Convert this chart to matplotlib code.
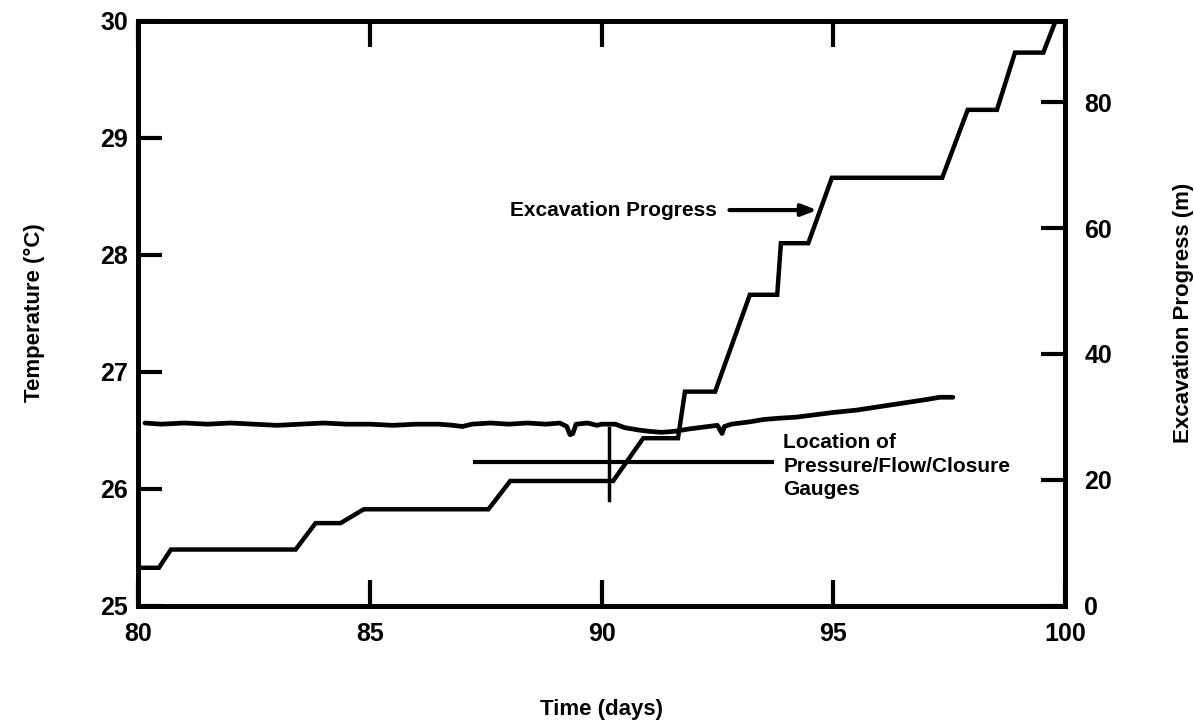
import matplotlib
matplotlib.use("Agg")
import matplotlib.pyplot as plt

# temperature record (deg C) vs time (days)
temp_days = [80.15, 80.5, 81.0, 81.5, 82.0, 82.5, 83.0, 83.5, 84.0, 84.5, 85.0, 85.5,
             86.0, 86.5, 86.8, 87.0, 87.2, 87.6, 88.0, 88.4, 88.8, 89.1, 89.25, 89.32,
             89.38, 89.45, 89.7, 89.9, 90.0, 90.3, 90.5, 90.8, 91.0, 91.3, 91.6, 91.9,
             92.1, 92.3, 92.5, 92.6, 92.65, 92.8, 93.2, 93.5, 93.8, 94.2, 94.6, 95.0,
             95.5, 96.0, 96.5, 97.0, 97.3, 97.58]
temp_c = [26.56, 26.55, 26.56, 26.55, 26.56, 26.55, 26.54, 26.55, 26.56, 26.55, 26.55, 26.54,
          26.55, 26.55, 26.54, 26.53, 26.55, 26.56, 26.55, 26.56, 26.55, 26.56, 26.53, 26.46,
          26.47, 26.55, 26.56, 26.54, 26.55, 26.55, 26.52, 26.50, 26.49, 26.48, 26.49, 26.51,
          26.52, 26.53, 26.54, 26.47, 26.53, 26.55, 26.57, 26.59, 26.60, 26.61, 26.63, 26.65,
          26.67, 26.70, 26.73, 26.76, 26.78, 26.78]

# excavation face position (m) vs time (days)
exc_days = [80.0, 80.45, 80.71, 83.40, 83.83, 84.37, 84.87, 87.56, 88.03, 90.25, 90.9,
            91.65, 91.8, 92.45, 93.2, 93.79, 93.87, 94.46, 94.97, 97.35, 97.9, 98.53,
            98.92, 99.53, 99.8]
exc_m = [6.0, 6.0, 8.9, 8.9, 13.1, 13.1, 15.3, 15.3, 19.8, 19.8, 26.6,
         26.6, 34.0, 34.0, 49.4, 49.4, 57.6, 57.6, 68.0, 68.0, 78.8, 78.8,
         87.9, 87.9, 93.0]

# gauge location marker
gauge_day = 90.16

x_ticks = [80, 85, 90, 95, 100]
temp_ticks = [25, 26, 27, 28, 29, 30]
exc_ticks = [0, 20, 40, 60, 80]

plt.rcParams['font.family'] = ['Liberation Sans', 'DejaVu Sans']
plt.rcParams['font.weight'] = 'bold'

fig = plt.figure(figsize=(11.94, 7.2), dpi=100)
ax = fig.add_axes([0.1156, 0.159, 0.7764, 0.8125])
ax2 = ax.twinx()

ax.plot(temp_days, temp_c, color='black', lw=3.4, solid_capstyle='round')
ax2.plot(exc_days, exc_m, color='black', lw=3.2, solid_joinstyle='miter')

# gauge marker lines
ax.plot([gauge_day, gauge_day], [26.52, 25.90], color='black', lw=2.5)
ax.plot([87.27, 93.68], [26.23, 26.23], color='black', lw=3.0)
ax.text(93.92, 26.19, 'Location of\nPressure/Flow/Closure\nGauges', ha='left', va='center',
        fontsize=15, fontweight='bold', linespacing=1.3)

ax.text(92.49, 28.38, 'Excavation Progress', ha='right', va='center', fontsize=15,
        fontweight='bold')
ax.annotate('', xy=(94.65, 28.38), xytext=(92.76, 28.38),
            arrowprops=dict(arrowstyle='-|>,head_length=0.9,head_width=0.35',
                            color='black', lw=3.0, shrinkA=0, shrinkB=0))

ax.set_xlim(80, 100)
ax.set_ylim(25, 30)
ax2.set_ylim(0, 93)
ax.set_xticks(x_ticks)
ax.set_yticks(temp_ticks)
ax2.set_yticks(exc_ticks)

ax.tick_params(axis='x', direction='in', top=True, length=19, width=3, labelsize=18, pad=12)
ax.tick_params(axis='y', direction='in', length=17, width=3, labelsize=18, pad=7)
ax2.tick_params(axis='y', direction='in', length=17, width=3, labelsize=18, pad=14)

for a in (ax, ax2):
    for s in a.spines.values():
        s.set_linewidth(3.5)

ax.set_xlabel('Time (days)', fontsize=16, fontweight='bold', labelpad=38)
ax.set_ylabel('Temperature (\u00b0C)', fontsize=16, fontweight='bold', labelpad=40)
ax2.set_ylabel('Excavation Progress (m)', fontsize=16, fontweight='bold', labelpad=44)

fig.savefig('out.png', dpi=100)
